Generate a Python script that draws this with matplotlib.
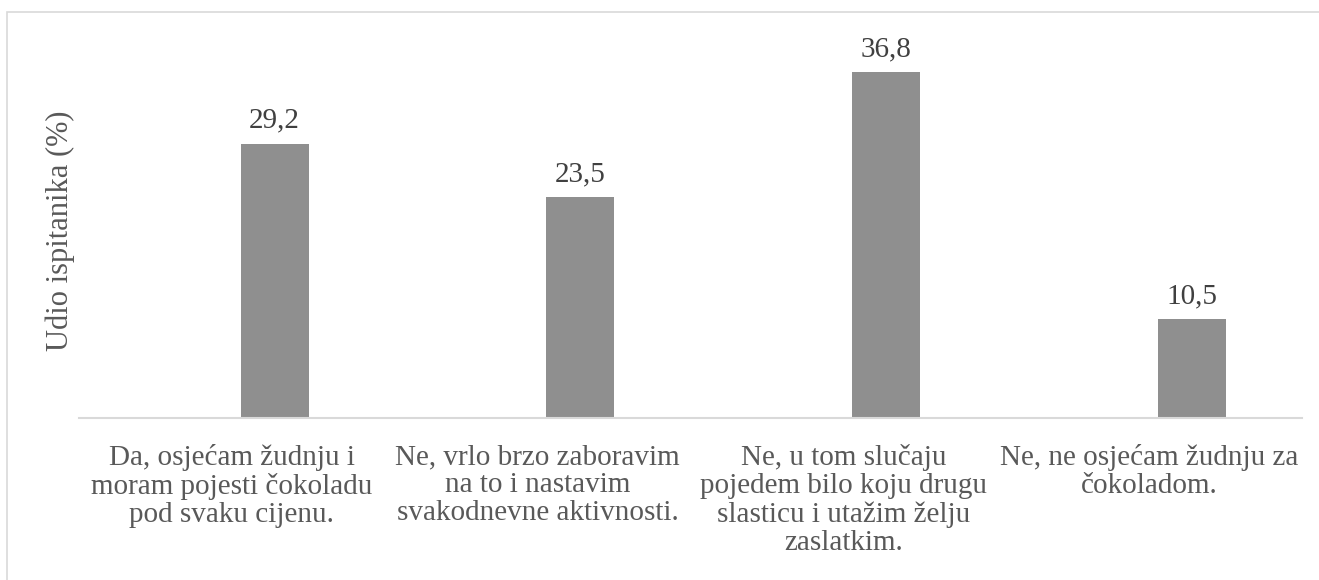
import matplotlib
matplotlib.use("Agg")
import matplotlib.pyplot as plt
from matplotlib.patches import Rectangle

# data
categories = [
    "Da, osjećam žudnju i\nmoram pojesti čokoladu\npod svaku cijenu.",
    "Ne, vrlo brzo zaboravim\nna to i nastavim\nsvakodnevne aktivnosti.",
    "Ne, u tom slučaju\npojedem bilo koju drugu\nslasticu i utažim želju\nzaslatkim.",
    "Ne, ne osjećam žudnju za\nčokoladom.",
]
values = [29.2, 23.5, 36.8, 10.5]
value_labels = ["29,2", "23,5", "36,8", "10,5"]
y_label = "Udio ispitanika (%)"

plt.rcParams['font.family'] = ['Liberation Serif', 'DejaVu Serif']

W, H = 1319, 580
fig = plt.figure(figsize=(W / 100, H / 100), dpi=100)
fig.patch.set_facecolor('white')

# light outer border, clipped at right and bottom like the reference
fig.patches.append(Rectangle((7 / W, -0.1), 1.2, 1.1 - 12 / H,
                             transform=fig.transFigure, fill=False,
                             edgecolor='#d9d9d9', linewidth=1.2))

ax = fig.add_axes([79 / W, 1 - 418 / H, (1302 - 79) / W, (418 - 42) / H])

x = range(len(values))
bar_x = [i + 0.14 for i in x]
bars = ax.bar(bar_x, values, width=0.222, color='#8f8f8f', zorder=2)

for b, lab in zip(bars, value_labels):
    ax.annotate(lab, (b.get_x() + b.get_width() / 2, b.get_height()),
                xytext=(0, 11.5), textcoords='offset points',
                ha='center', va='baseline', fontsize=21, color='#404040')

ax.set_xlim(-0.5, 3.5)
ax.set_ylim(0, 40)
ax.set_xticks(list(x))
ax.set_xticklabels(categories, fontsize=21, color='#595959', linespacing=1.1)
ax.tick_params(axis='x', length=0, pad=19)
ax.set_yticks([])

for side in ['top', 'right', 'left']:
    ax.spines[side].set_visible(False)
ax.spines['bottom'].set_color('#d9d9d9')
ax.spines['bottom'].set_linewidth(1.5)

fig.text(60 / W, 1 - 231 / H, y_label, rotation=90, ha='center', va='center',
         fontsize=22, color='#595959')

fig.savefig('out.png', dpi=100, facecolor='white')
